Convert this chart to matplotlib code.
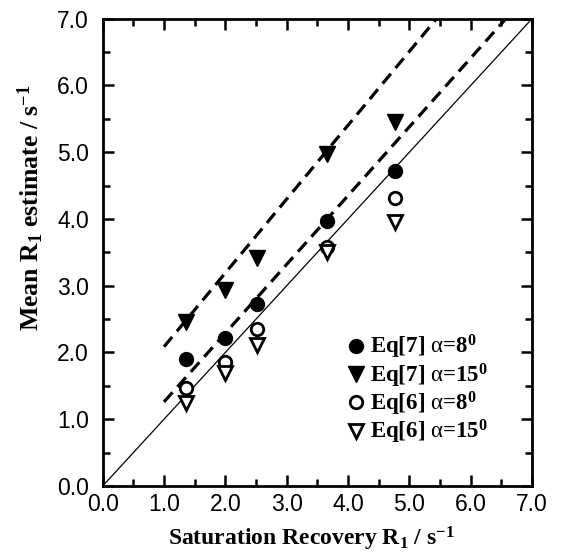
import matplotlib
matplotlib.use("Agg")
import matplotlib.pyplot as plt
import numpy as np
from matplotlib.ticker import MultipleLocator

plt.rcParams['mathtext.fontset'] = 'custom'
plt.rcParams['mathtext.rm'] = 'Liberation Serif:bold'
plt.rcParams['mathtext.it'] = 'Liberation Serif'
plt.rcParams['mathtext.bf'] = 'Liberation Serif:bold'
plt.rcParams['mathtext.default'] = 'rm'

sr_r1 = [1.36, 2.0, 2.52, 3.65, 4.76]
eq7_a8 = [1.90, 2.21, 2.72, 3.97, 4.72]
eq7_a15 = [2.46, 2.93, 3.42, 4.97, 5.45]
eq6_a8 = [1.47, 1.85, 2.35, 3.58, 4.32]
eq6_a15 = [1.24, 1.69, 2.11, 3.51, 3.96]

fit_upper = (1.106, 0.98)  # slope, intercept
fit_lower = (1.03, 0.23)
fit_x = [1.0, 7.0]
identity = [0.0, 7.0]

fig = plt.figure(figsize=(5.63, 5.57), dpi=100)
ax = fig.add_axes([0.1824, 0.1275, 0.7626, 0.8389])

ax.plot(identity, identity, color='black', lw=0.9)
for s, b in (fit_upper, fit_lower):
    fx = np.array(fit_x)
    ax.plot(fx, s * fx + b, color='black', lw=2.3, ls=(0, (4, 2.3)))

ms = 10
ax.plot(sr_r1, eq7_a8, 'o', color='black', ms=ms, label=r'Eq[7] $\mathit{\alpha}$=8$^0$', zorder=3)
ax.plot(sr_r1, eq7_a15, 'v', color='black', ms=ms + 1, label=r'Eq[7] $\mathit{\alpha}$=15$^0$', zorder=3)
ax.plot(sr_r1, eq6_a8, 'o', mfc='white', mec='black', mew=2, ms=ms - 1, label=r'Eq[6] $\mathit{\alpha}$=8$^0$', zorder=3)
ax.plot(sr_r1, eq6_a15, 'v', mfc='white', mec='black', mew=2, ms=ms, label=r'Eq[6] $\mathit{\alpha}$=15$^0$', zorder=3)

ax.set_xlim(0, 7)
ax.set_ylim(0, 7)
ax.xaxis.set_major_locator(MultipleLocator(1))
ax.yaxis.set_major_locator(MultipleLocator(1))
ax.xaxis.set_minor_locator(MultipleLocator(0.5))
ax.yaxis.set_minor_locator(MultipleLocator(0.5))
ax.set_xticklabels([f'{v:.1f}' for v in ax.get_xticks()])
ax.set_yticklabels([f'{v:.1f}' for v in ax.get_yticks()])
ax.tick_params(which='both', direction='in', top=True, right=True, width=1.8)
ax.tick_params(which='major', length=8, labelsize=16.5)
ax.tick_params(axis='x', which='major', pad=5)
ax.tick_params(axis='y', which='major', pad=10)
ax.tick_params(which='minor', length=5)
for lab in ax.get_xticklabels() + ax.get_yticklabels():
    lab.set_fontfamily('Liberation Sans')
for sp in ax.spines.values():
    sp.set_linewidth(2)

ax.set_xlabel(r'Saturation Recovery R$_1$ / s$^{-1}$', fontfamily='Liberation Serif',
              fontweight='bold', fontsize=17)
ax.set_ylabel(r'Mean R$_1$ estimate / s$^{-1}$', fontfamily='Liberation Serif',
              fontweight='bold', fontsize=18.5)
ax.xaxis.set_label_coords(0.486, -0.084)
ax.yaxis.set_label_coords(-0.133, 0.595)

leg = ax.legend(loc='upper left', bbox_to_anchor=(0.511, 0.371), frameon=False,
                handletextpad=0.0, handlelength=1.2, labelspacing=0.0, borderpad=0.4,
                prop={'family': 'Liberation Serif', 'weight': 'bold', 'size': 16.5})

fig.savefig('out.png', dpi=100)
